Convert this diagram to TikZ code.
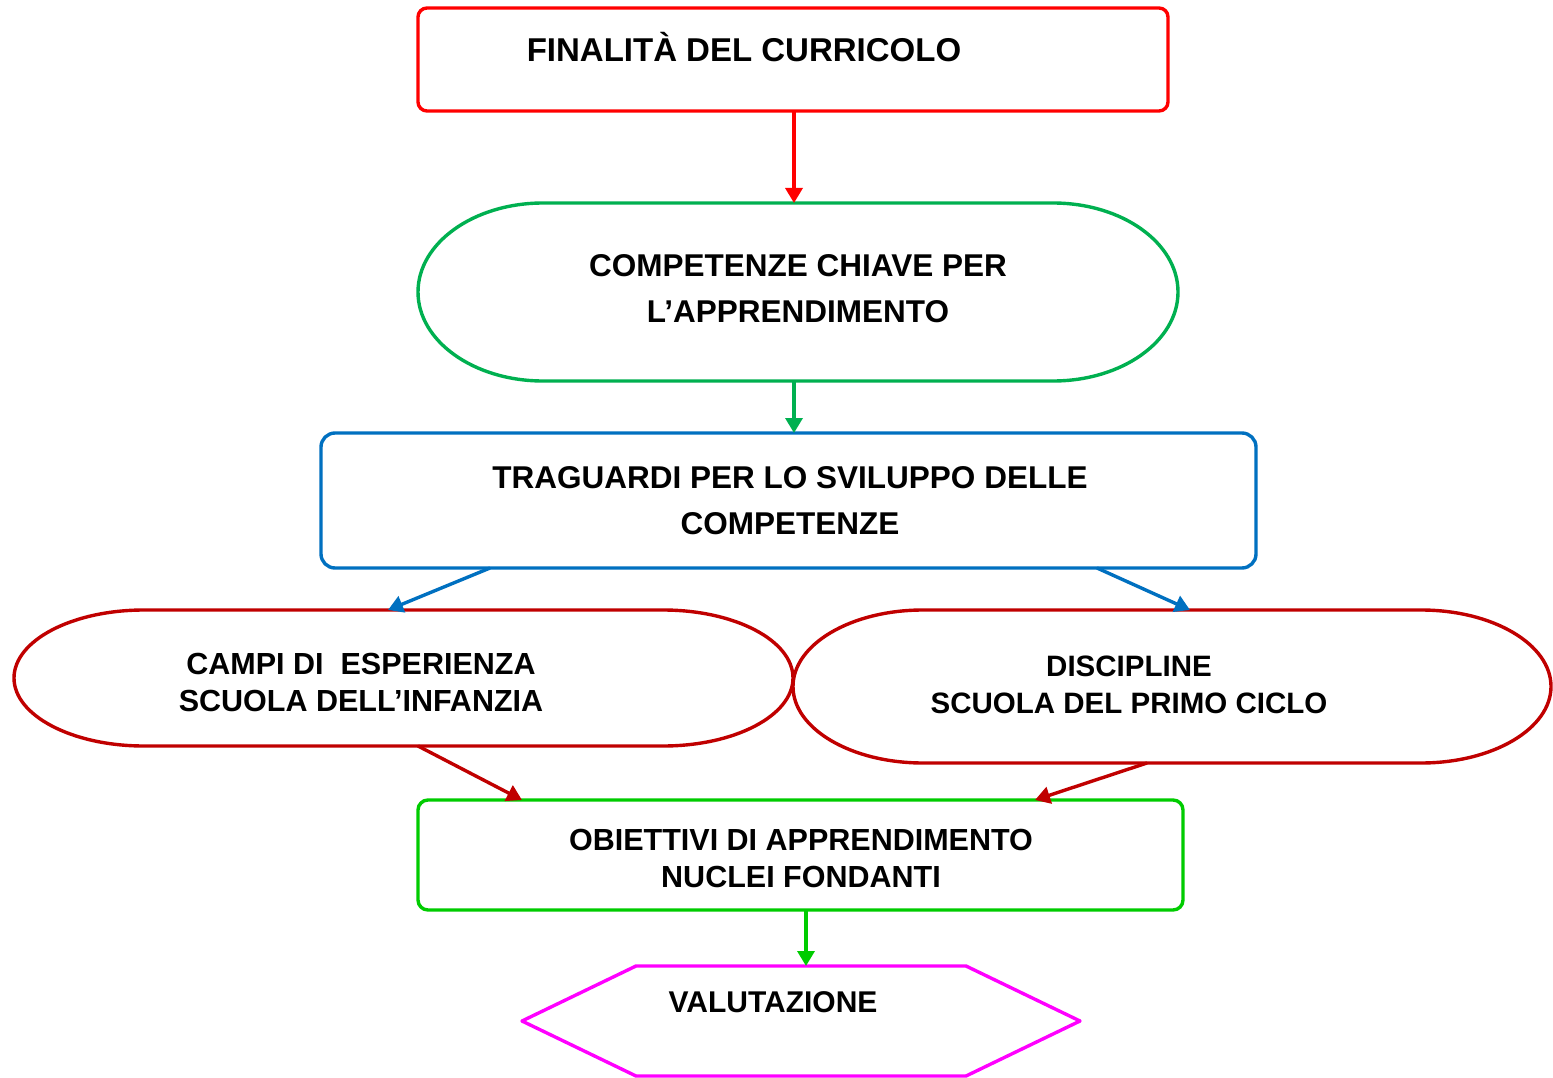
\documentclass[tikz,border=0pt]{standalone}
\usepackage{fontspec}
\setmainfont{Liberation Sans}
\usetikzlibrary{arrows.meta,calc}
\definecolor{cred}{HTML}{FF0000}
\definecolor{cgreen}{HTML}{00B050}
\definecolor{cblue}{HTML}{0070C0}
\definecolor{cdred}{HTML}{C00000}
\definecolor{cgreenb}{HTML}{00CC00}
\definecolor{cmag}{HTML}{FF00FF}
\tikzset{
  shapebox/.style={rectangle,inner sep=0pt,outer sep=0pt},
  outline/.style={line width=3.4pt,line join=round},
  txtt/.style={inner sep=0pt,align=center,font=\bfseries\fontsize{33}{47}\selectfont},
  txt/.style={inner sep=0pt,align=center,font=\bfseries\fontsize{31.5}{46}\selectfont},
  txts/.style={inner sep=0pt,align=center,font=\bfseries\fontsize{30.5}{37}\selectfont},
  conn/.style={line width=3.4pt,-{Triangle[length=15pt,width=17pt]}},
}
\begin{document}
\begin{tikzpicture}[x=1pt,y=-1pt]
\useasboundingbox[fill=white] (0,0) rectangle (1553,1078);
% shape nodes
\node[shapebox,minimum width=750pt,minimum height=103pt] (fin) at (793,59.5) {};
\node[shapebox,minimum width=760pt,minimum height=178pt] (comp) at (798,292) {};
\node[shapebox,minimum width=935pt,minimum height=135pt] (trag) at (788.5,500.5) {};
\node[shapebox,minimum width=779pt,minimum height=136pt] (campi) at (403.5,678) {};
\node[shapebox,minimum width=758pt,minimum height=153pt] (disc) at (1172,686.5) {};
\node[shapebox,minimum width=765pt,minimum height=110pt] (obi) at (800.5,855) {};
\node[shapebox,minimum width=558pt,minimum height=110pt] (val) at (801,1021) {};
% outlines
\draw[outline,cred,rounded corners=9pt] (fin.north west) rectangle (fin.south east);
\draw[outline,cgreen] ([xshift=125pt]comp.north west) -- ([xshift=-125pt]comp.north east)
  arc[start angle=90,end angle=-90,x radius=125pt,y radius=89pt]
  -- ([xshift=125pt]comp.south west)
  arc[start angle=270,end angle=90,x radius=125pt,y radius=89pt] -- cycle;
\draw[outline,cblue,rounded corners=14pt] (trag.north west) rectangle (trag.south east);
\draw[outline,cdred] ([xshift=130pt]campi.north west) -- ([xshift=-130pt]campi.north east)
  arc[start angle=90,end angle=-90,x radius=130pt,y radius=68pt]
  -- ([xshift=130pt]campi.south west)
  arc[start angle=270,end angle=90,x radius=130pt,y radius=68pt] -- cycle;
\draw[outline,cdred] ([xshift=130pt]disc.north west) -- ([xshift=-130pt]disc.north east)
  arc[start angle=90,end angle=-90,x radius=130pt,y radius=76.5pt]
  -- ([xshift=130pt]disc.south west)
  arc[start angle=270,end angle=90,x radius=130pt,y radius=76.5pt] -- cycle;
\draw[outline,cgreenb,rounded corners=10pt] (obi.north west) rectangle (obi.south east);
\draw[outline,cmag] ([xshift=114pt]val.north west) -- ([xshift=-114pt]val.north east)
  -- (val.east) -- ([xshift=-114pt]val.south east) -- ([xshift=114pt]val.south west)
  -- (val.west) -- cycle;
% texts
\node[txtt] (tfin) at (744,47) {FINALITÀ DEL CURRICOLO};
\node[txt] (tcomp) at (798,288.5) {COMPETENZE CHIAVE PER\\L’APPRENDIMENTO};
\node[txt] (ttrag) at (790,500.5) {TRAGUARDI PER LO SVILUPPO DELLE\\COMPETENZE};
\node[txts] (tcampi) at (361,682) {CAMPI DI\ \ ESPERIENZA\\SCUOLA DELL’INFANZIA};
\node[txts,font=\bfseries\fontsize{29.5}{37}\selectfont] (tdisc) at (1129,684.5) {DISCIPLINE\\SCUOLA DEL PRIMO CICLO};
\node[txts] (tobi) at (801,858.5) {OBIETTIVI DI APPRENDIMENTO\\NUCLEI FONDANTI};
\node[txtt,font=\bfseries\fontsize{30}{40}\selectfont] (tval) at (773,1002) {VALUTAZIONE};
% connectors
\draw[conn,cred] ([xshift=1pt]fin.south) -- ([xshift=-4pt]comp.north);
\draw[conn,cgreen] ([xshift=-4pt]comp.south) -- ([xshift=5.5pt]trag.north);
\draw[conn,cblue] ([xshift=-298.5pt]trag.south) -- ([xshift=-15.5pt]campi.north);
\draw[conn,cblue] ([xshift=308.5pt]trag.south) -- ([xshift=18pt]disc.north);
\draw[conn,cdred] ([xshift=14.5pt]campi.south) -- ([xshift=-278.5pt]obi.north);
\draw[conn,cdred] ([xshift=-25pt]disc.south) -- ([xshift=234.5pt]obi.north);
\draw[conn,cgreenb] ([xshift=5.5pt]obi.south) -- ([xshift=5pt]val.north);
\end{tikzpicture}
\end{document}
